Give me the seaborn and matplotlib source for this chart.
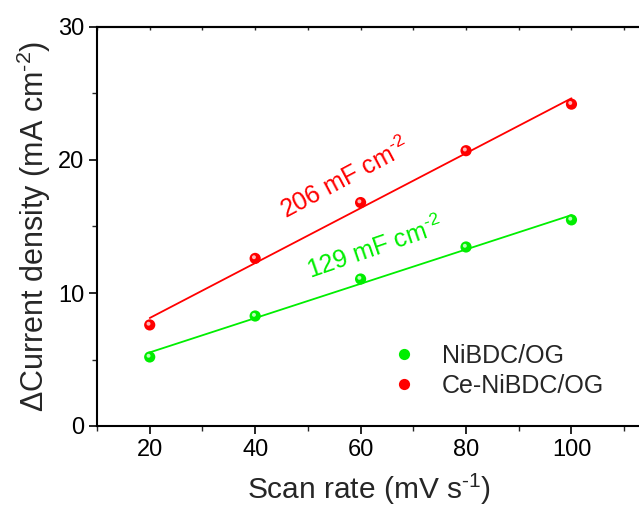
import matplotlib
matplotlib.use("Agg")
import matplotlib.pyplot as plt
import seaborn as sns
import pandas as pd
from matplotlib.ticker import MultipleLocator

scan_rate = [20, 40, 60, 80, 100]
nibdc = [5.19, 8.27, 11.05, 13.46, 15.5]
ce_nibdc = [7.6, 12.6, 16.8, 20.7, 24.2]
labels = ["NiBDC/OG", "Ce-NiBDC/OG"]
colors = ["#00ee00", "#ff0000"]
highlights = ["#b8ffb8", "#ffb8b8"]

df = pd.DataFrame({
    "x": scan_rate * 2,
    "y": nibdc + ce_nibdc,
    "s": [labels[0]] * 5 + [labels[1]] * 5,
})

sns.set_style("white")
plt.rcParams["font.family"] = ["Liberation Sans", "DejaVu Sans"]
plt.rcParams["mathtext.fontset"] = "custom"
plt.rcParams["mathtext.rm"] = "Liberation Sans"
plt.rcParams["mathtext.it"] = "Liberation Sans"

fig = plt.figure(figsize=(6.39, 5.13), dpi=100)
ax = fig.add_axes([97 / 639, (513 - 426) / 513, (640 - 97) / 639, (426 - 27) / 513])

for lab, col, ys in zip(labels, colors, [nibdc, ce_nibdc]):
    sns.regplot(x=scan_rate, y=ys, ax=ax, scatter=False, ci=None, truncate=True,
                color=col, line_kws={"lw": 1.3})

sns.scatterplot(data=df, x="x", y="y", hue="s", palette=colors, ax=ax, s=65,
                edgecolor="none", zorder=5)
# glossy highlight on the spheres
for ys, hc in zip([nibdc, ce_nibdc], highlights):
    ax.scatter(scan_rate, ys, s=8, color=hc, edgecolor="none", zorder=6,
               transform=ax.transData + matplotlib.transforms.ScaledTranslation(
                   -1.2 / 100, 1.2 / 100, fig.dpi_scale_trans))

ax.set_xlim(10, 113)
ax.set_ylim(0, 30)
ax.set_xticks([20, 40, 60, 80, 100])
ax.xaxis.set_minor_locator(MultipleLocator(10))
ax.yaxis.set_major_locator(MultipleLocator(10))
ax.yaxis.set_minor_locator(MultipleLocator(5))
ax.tick_params(axis="both", which="major", direction="out", length=6, width=1.2,
               labelsize=17, colors="black", pad=3)
ax.tick_params(axis="both", which="minor", direction="out", length=3.5, width=1.0)
ax.tick_params(axis="x", which="both", bottom=True, top=False)
ax.tick_params(axis="y", which="both", left=True, right=False)
for sp in ["left", "bottom", "top"]:
    ax.spines[sp].set_linewidth(1.5)
    ax.spines[sp].set_color("black")
ax.spines["right"].set_visible(False)

top = ax.secondary_xaxis("top")
top.set_xticks([20, 40, 60, 80, 100])
top.xaxis.set_minor_locator(MultipleLocator(10))
top.tick_params(which="both", direction="in", length=2.5, width=1.0, labeltop=False)
top.spines["top"].set_linewidth(1.5)

ax.set_xlabel("Scan rate (mV s$^{\\text{-1}}$)", fontsize=21.5, labelpad=8)
ax.set_ylabel("$\\Delta$Current density (mA cm$^{\\text{-2}}$)", fontsize=22, labelpad=4)

ax.text(57.0, 18.6, "206 mF cm$^{\\text{-2}}$", color="#ff0000", fontsize=18, rotation=28,
        ha="center", va="center")
ax.text(62.7, 13.4, "129 mF cm$^{\\text{-2}}$", color="#00ee00", fontsize=18, rotation=19,
        ha="center", va="center")

leg = ax.legend(loc="center left", bbox_to_anchor=(0.478, 0.138), frameon=False,
                fontsize=18, handletextpad=0.5, labelspacing=0.25, markerscale=1.0)

fig.savefig("out.png", dpi=100)
